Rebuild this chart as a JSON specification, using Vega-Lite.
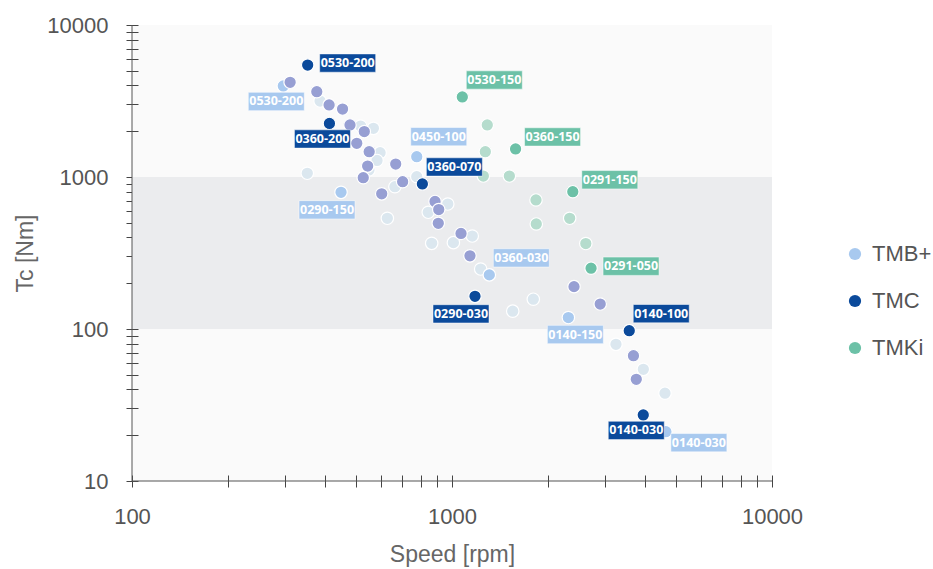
{
  "$schema": "https://vega.github.io/schema/vega-lite/v6.json",
  "width": 640,
  "height": 456,
  "autosize": {"type": "none"},
  "padding": {"left": 132, "top": 25, "right": 161, "bottom": 88},
  "background": "white",
  "config": {"view": {"fill": "#fafafa", "stroke": null}},
  "datasets": {
    "pts": [
      {"s": 387, "t": 3160, "g": "ref A"},
      {"s": 518, "t": 2165, "g": "ref A"},
      {"s": 568, "t": 2090, "g": "ref A"},
      {"s": 596, "t": 1445, "g": "ref A"},
      {"s": 583, "t": 1284, "g": "ref A"},
      {"s": 353, "t": 1058, "g": "ref A"},
      {"s": 550, "t": 1112, "g": "ref A"},
      {"s": 776, "t": 1005, "g": "ref A"},
      {"s": 663, "t": 863, "g": "ref A"},
      {"s": 628, "t": 535, "g": "ref A"},
      {"s": 970, "t": 664, "g": "ref A"},
      {"s": 843, "t": 586, "g": "ref A"},
      {"s": 1157, "t": 409, "g": "ref A"},
      {"s": 1010, "t": 370, "g": "ref A"},
      {"s": 864, "t": 366, "g": "ref A"},
      {"s": 1229, "t": 248, "g": "ref A"},
      {"s": 1548, "t": 131, "g": "ref A"},
      {"s": 1795, "t": 157, "g": "ref A"},
      {"s": 3254, "t": 79.3, "g": "ref A"},
      {"s": 3962, "t": 54.3, "g": "ref A"},
      {"s": 4630, "t": 37.8, "g": "ref A"},
      {"s": 1289, "t": 2200, "g": "ref C"},
      {"s": 1271, "t": 1467, "g": "ref C"},
      {"s": 1253, "t": 1015, "g": "ref C"},
      {"s": 1511, "t": 1015, "g": "ref C"},
      {"s": 1830, "t": 706, "g": "ref C"},
      {"s": 1834, "t": 491, "g": "ref C"},
      {"s": 2332, "t": 535, "g": "ref C"},
      {"s": 2619, "t": 365, "g": "ref C"},
      {"s": 297, "t": 3970, "g": "TMB+", "label": "0530-200", "pos": "s"},
      {"s": 776, "t": 1360, "g": "TMB+", "label": "0450-100", "pos": "n"},
      {"s": 450, "t": 793, "g": "TMB+", "label": "0290-150", "pos": "sw"},
      {"s": 1308, "t": 227, "g": "TMB+", "label": "0360-030", "pos": "ne"},
      {"s": 2310, "t": 119, "g": "TMB+", "label": "0140-150", "pos": "se"},
      {"s": 4660, "t": 21.1, "g": "TMB+", "label": "0140-030", "pos": "ese"},
      {"s": 312, "t": 4200, "g": "ref B"},
      {"s": 378, "t": 3640, "g": "ref B"},
      {"s": 413, "t": 2980, "g": "ref B"},
      {"s": 455, "t": 2800, "g": "ref B"},
      {"s": 480, "t": 2200, "g": "ref B"},
      {"s": 532, "t": 1990, "g": "ref B"},
      {"s": 504, "t": 1665, "g": "ref B"},
      {"s": 551, "t": 1467, "g": "ref B"},
      {"s": 545, "t": 1180, "g": "ref B"},
      {"s": 528, "t": 990, "g": "ref B"},
      {"s": 667, "t": 1217, "g": "ref B"},
      {"s": 701, "t": 931, "g": "ref B"},
      {"s": 603, "t": 775, "g": "ref B"},
      {"s": 885, "t": 690, "g": "ref B"},
      {"s": 909, "t": 611, "g": "ref B"},
      {"s": 906, "t": 496, "g": "ref B"},
      {"s": 1067, "t": 425, "g": "ref B"},
      {"s": 1138, "t": 303, "g": "ref B"},
      {"s": 2406, "t": 190, "g": "ref B"},
      {"s": 2905, "t": 146, "g": "ref B"},
      {"s": 3690, "t": 66.7, "g": "ref B"},
      {"s": 3766, "t": 46.7, "g": "ref B"},
      {"s": 354, "t": 5450, "g": "TMC", "label": "0530-200", "pos": "e"},
      {"s": 414, "t": 2250, "g": "TMC", "label": "0360-200", "pos": "s"},
      {"s": 808, "t": 900, "g": "TMC", "label": "0360-070", "pos": "ne"},
      {"s": 1180, "t": 164, "g": "TMC", "label": "0290-030", "pos": "sw"},
      {"s": 3580, "t": 97.5, "g": "TMC", "label": "0140-100", "pos": "ne"},
      {"s": 3960, "t": 27.2, "g": "TMC", "label": "0140-030", "pos": "s"},
      {"s": 1077, "t": 3360, "g": "TMKi", "label": "0530-150", "pos": "ne"},
      {"s": 1580, "t": 1530, "g": "TMKi", "label": "0360-150", "pos": "ene"},
      {"s": 2385, "t": 800, "g": "TMKi", "label": "0291-150", "pos": "ene"},
      {"s": 2720, "t": 251, "g": "TMKi", "label": "0291-050", "pos": "e"}
    ],
    "band": [{"lo": 100, "hi": 1000}]
  },
  "data": {"name": "pts"},
  "layer": [
    {
      "data": {"name": "band"},
      "mark": {"type": "rect", "fill": "#ebecee"},
      "encoding": {
        "x": {"datum": 100, "type": "quantitative",
          "scale": {"type": "log", "domain": [100, 10000], "nice": false},
          "axis": {
            "title": "Speed [rpm]",
            "values": [100, 200, 300, 400, 500, 600, 700, 800, 900, 1000, 2000, 3000, 4000, 5000, 6000, 7000, 8000, 9000, 10000],
            "format": "d",
            "labelExpr": "datum.value == 100 || datum.value == 1000 || datum.value == 10000 ? datum.label : ''",
            "labelOverlap": false, "labelFlush": false,
            "domain": false, "grid": false, "offset": -6, "tickSize": 12, "tickColor": "#444", "tickWidth": 1,
            "labelFont": "Liberation Sans", "labelFontSize": 22, "labelColor": "#555", "labelPadding": 19,
            "titleFont": "Liberation Sans", "titleFontSize": 23, "titleFontWeight": "normal", "titleColor": "#666", "titlePadding": 16
          }
        },
        "x2": {"datum": 10000},
        "y": {"field": "lo", "type": "quantitative",
          "scale": {"type": "log", "domain": [10, 10000], "nice": false},
          "axis": {
            "title": "Tc [Nm]",
            "values": [10, 20, 30, 40, 50, 60, 70, 80, 90, 100, 200, 300, 400, 500, 600, 700, 800, 900, 1000, 2000, 3000, 4000, 5000, 6000, 7000, 8000, 9000, 10000],
            "format": "d",
            "labelExpr": "datum.value == 10 || datum.value == 100 || datum.value == 1000 || datum.value == 10000 ? datum.label : ''",
            "labelOverlap": false, "labelFlush": false,
            "domain": false, "grid": false, "offset": -6, "tickSize": 12, "tickColor": "#444", "tickWidth": 1,
            "labelFont": "Liberation Sans", "labelFontSize": 22, "labelColor": "#555", "labelPadding": 18,
            "titleFont": "Liberation Sans", "titleFontSize": 23, "titleFontWeight": "normal", "titleColor": "#666", "titlePadding": 9
          }
        },
        "y2": {"field": "hi"}
      }
    },
    {
      "data": {"values": [{}]},
      "mark": {"type": "rule", "color": "#555", "strokeWidth": 1},
      "encoding": {"x": {"datum": 100, "type": "quantitative"}}
    },
    {
      "data": {"values": [{}]},
      "mark": {"type": "rule", "color": "#555", "strokeWidth": 1},
      "encoding": {"y": {"datum": 10, "type": "quantitative"}}
    },
    {
      "mark": {"type": "point", "filled": true, "size": 155, "opacity": 1, "stroke": "white", "strokeWidth": 1.2},
      "encoding": {
        "x": {"field": "s", "type": "quantitative"},
        "y": {"field": "t", "type": "quantitative"},
        "color": {"field": "g", "type": "nominal",
          "scale": {"domain": ["TMB+", "TMC", "TMKi", "ref A", "ref B", "ref C"],
                    "range": ["#a8c9ef", "#0b4a9b", "#6cc1a7", "#dbe7ef", "#979fd3", "#b5dccd"]},
          "legend": {
            "values": ["TMB+", "TMC", "TMKi"],
            "title": null, "orient": "none", "legendX": 712, "legendY": 218,
            "symbolType": "circle", "symbolSize": 150, "symbolStrokeWidth": 0,
            "labelFont": "Liberation Sans", "labelFontSize": 22, "labelColor": "#555",
            "rowPadding": 25, "labelOffset": 6, "padding": 0
          }
        }
      }
    },
    {"transform": [{"filter": "datum.pos === 'ne'"}],
     "encoding": {"x": {"field": "s", "type": "quantitative"}, "y": {"field": "t", "type": "quantitative"}},
     "layer": [
       {"mark": {"type": "point", "shape": "M-1,-0.327L1,-0.327L1,0.327L-1,0.327Z", "size": 3136, "filled": true, "opacity": 1, "stroke": "white", "strokeWidth": 1, "strokeOpacity": 0.5, "xOffset": 32, "yOffset": -17},
        "encoding": {"color": {"field": "g", "type": "nominal"}}},
       {"mark": {"type": "text", "font": "Open Sans", "fontWeight": "bold", "fontSize": 12.5, "color": "white", "align": "center", "baseline": "middle", "dx": 32, "dy": -17},
        "encoding": {"text": {"field": "label"}}}
     ]},
    {"transform": [{"filter": "datum.pos === 'ene'"}],
     "encoding": {"x": {"field": "s", "type": "quantitative"}, "y": {"field": "t", "type": "quantitative"}},
     "layer": [
       {"mark": {"type": "point", "shape": "M-1,-0.327L1,-0.327L1,0.327L-1,0.327Z", "size": 3136, "filled": true, "opacity": 1, "stroke": "white", "strokeWidth": 1, "strokeOpacity": 0.5, "xOffset": 37, "yOffset": -12},
        "encoding": {"color": {"field": "g", "type": "nominal"}}},
       {"mark": {"type": "text", "font": "Open Sans", "fontWeight": "bold", "fontSize": 12.5, "color": "white", "align": "center", "baseline": "middle", "dx": 37, "dy": -12},
        "encoding": {"text": {"field": "label"}}}
     ]},
    {"transform": [{"filter": "datum.pos === 'n'"}],
     "encoding": {"x": {"field": "s", "type": "quantitative"}, "y": {"field": "t", "type": "quantitative"}},
     "layer": [
       {"mark": {"type": "point", "shape": "M-1,-0.327L1,-0.327L1,0.327L-1,0.327Z", "size": 3136, "filled": true, "opacity": 1, "stroke": "white", "strokeWidth": 1, "strokeOpacity": 0.5, "xOffset": 22, "yOffset": -20},
        "encoding": {"color": {"field": "g", "type": "nominal"}}},
       {"mark": {"type": "text", "font": "Open Sans", "fontWeight": "bold", "fontSize": 12.5, "color": "white", "align": "center", "baseline": "middle", "dx": 22, "dy": -20},
        "encoding": {"text": {"field": "label"}}}
     ]},
    {"transform": [{"filter": "datum.pos === 'e'"}],
     "encoding": {"x": {"field": "s", "type": "quantitative"}, "y": {"field": "t", "type": "quantitative"}},
     "layer": [
       {"mark": {"type": "point", "shape": "M-1,-0.327L1,-0.327L1,0.327L-1,0.327Z", "size": 3136, "filled": true, "opacity": 1, "stroke": "white", "strokeWidth": 1, "strokeOpacity": 0.5, "xOffset": 40, "yOffset": -2},
        "encoding": {"color": {"field": "g", "type": "nominal"}}},
       {"mark": {"type": "text", "font": "Open Sans", "fontWeight": "bold", "fontSize": 12.5, "color": "white", "align": "center", "baseline": "middle", "dx": 40, "dy": -2},
        "encoding": {"text": {"field": "label"}}}
     ]},
    {"transform": [{"filter": "datum.pos === 's'"}],
     "encoding": {"x": {"field": "s", "type": "quantitative"}, "y": {"field": "t", "type": "quantitative"}},
     "layer": [
       {"mark": {"type": "point", "shape": "M-1,-0.327L1,-0.327L1,0.327L-1,0.327Z", "size": 3136, "filled": true, "opacity": 1, "stroke": "white", "strokeWidth": 1, "strokeOpacity": 0.5, "xOffset": -7, "yOffset": 15.5},
        "encoding": {"color": {"field": "g", "type": "nominal"}}},
       {"mark": {"type": "text", "font": "Open Sans", "fontWeight": "bold", "fontSize": 12.5, "color": "white", "align": "center", "baseline": "middle", "dx": -7, "dy": 15.5},
        "encoding": {"text": {"field": "label"}}}
     ]},
    {"transform": [{"filter": "datum.pos === 'sw'"}],
     "encoding": {"x": {"field": "s", "type": "quantitative"}, "y": {"field": "t", "type": "quantitative"}},
     "layer": [
       {"mark": {"type": "point", "shape": "M-1,-0.327L1,-0.327L1,0.327L-1,0.327Z", "size": 3136, "filled": true, "opacity": 1, "stroke": "white", "strokeWidth": 1, "strokeOpacity": 0.5, "xOffset": -14, "yOffset": 17.5},
        "encoding": {"color": {"field": "g", "type": "nominal"}}},
       {"mark": {"type": "text", "font": "Open Sans", "fontWeight": "bold", "fontSize": 12.5, "color": "white", "align": "center", "baseline": "middle", "dx": -14, "dy": 17.5},
        "encoding": {"text": {"field": "label"}}}
     ]},
    {"transform": [{"filter": "datum.pos === 'se'"}],
     "encoding": {"x": {"field": "s", "type": "quantitative"}, "y": {"field": "t", "type": "quantitative"}},
     "layer": [
       {"mark": {"type": "point", "shape": "M-1,-0.327L1,-0.327L1,0.327L-1,0.327Z", "size": 3136, "filled": true, "opacity": 1, "stroke": "white", "strokeWidth": 1, "strokeOpacity": 0.5, "xOffset": 7, "yOffset": 17},
        "encoding": {"color": {"field": "g", "type": "nominal"}}},
       {"mark": {"type": "text", "font": "Open Sans", "fontWeight": "bold", "fontSize": 12.5, "color": "white", "align": "center", "baseline": "middle", "dx": 7, "dy": 17},
        "encoding": {"text": {"field": "label"}}}
     ]},
    {"transform": [{"filter": "datum.pos === 'ese'"}],
     "encoding": {"x": {"field": "s", "type": "quantitative"}, "y": {"field": "t", "type": "quantitative"}},
     "layer": [
       {"mark": {"type": "point", "shape": "M-1,-0.327L1,-0.327L1,0.327L-1,0.327Z", "size": 3136, "filled": true, "opacity": 1, "stroke": "white", "strokeWidth": 1, "strokeOpacity": 0.5, "xOffset": 33, "yOffset": 11},
        "encoding": {"color": {"field": "g", "type": "nominal"}}},
       {"mark": {"type": "text", "font": "Open Sans", "fontWeight": "bold", "fontSize": 12.5, "color": "white", "align": "center", "baseline": "middle", "dx": 33, "dy": 11},
        "encoding": {"text": {"field": "label"}}}
     ]}
  ]
}
